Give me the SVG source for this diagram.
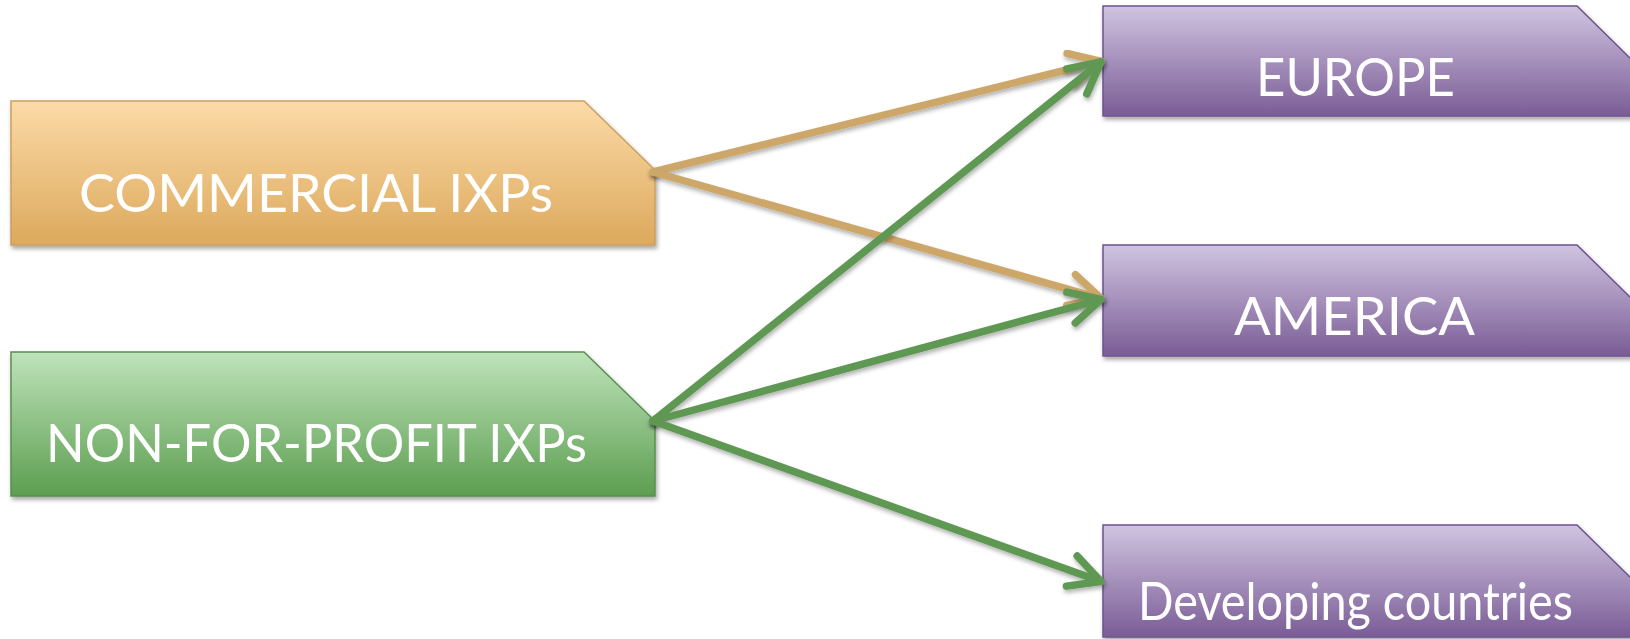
<svg xmlns="http://www.w3.org/2000/svg" width="1630" height="639" viewBox="0 0 1630 639">
  <defs>
    <linearGradient id="gOrange" x1="0" y1="0" x2="0" y2="1">
      <stop offset="0" stop-color="#FCDAA8"/>
      <stop offset="1" stop-color="#DCA95C"/>
    </linearGradient>
    <linearGradient id="gGreen" x1="0" y1="0" x2="0" y2="1">
      <stop offset="0" stop-color="#BFE3BB"/>
      <stop offset="1" stop-color="#5C9E50"/>
    </linearGradient>
    <linearGradient id="gPurple" x1="0" y1="0" x2="0" y2="1">
      <stop offset="0" stop-color="#D0C4E0"/>
      <stop offset="1" stop-color="#7A5C96"/>
    </linearGradient>
    <filter id="shadow" x="-10%" y="-10%" width="120%" height="130%">
      <feDropShadow dx="1.5" dy="3" stdDeviation="2" flood-color="#000" flood-opacity="0.35"/>
    </filter>
    <filter id="lshadow" x="-10%" y="-10%" width="120%" height="130%">
      <feDropShadow dx="1" dy="3" stdDeviation="2" flood-color="#000" flood-opacity="0.3"/>
    </filter>
    <marker id="arrTan" markerUnits="userSpaceOnUse" markerWidth="50" markerHeight="50" viewBox="-40 -25 50 50" refX="0" refY="0" orient="auto">
      <path d="M-31,-16 L0,0 L-31,16" fill="none" stroke="#CDA66A" stroke-width="7.5" stroke-linecap="round" stroke-linejoin="round"/>
    </marker>
    <marker id="arrGreen" markerUnits="userSpaceOnUse" markerWidth="50" markerHeight="50" viewBox="-40 -25 50 50" refX="0" refY="0" orient="auto">
      <path d="M-31,-16 L0,0 L-31,16" fill="none" stroke="#5E9853" stroke-width="7.5" stroke-linecap="round" stroke-linejoin="round"/>
    </marker>
  </defs>
  <style>
    .box { stroke-width: 1.5; filter: url(#shadow); }
    .orange { fill: url(#gOrange); stroke: #C9A060; }
    .green { fill: url(#gGreen); stroke: #5A8F4E; }
    .purple { fill: url(#gPurple); stroke: #6C5390; }
    .lbl { font-family: "Lato", "Open Sans", "Liberation Sans", sans-serif; font-weight: 400; font-size: 52px; fill: #FFFFFF; }
    .tan { fill: none; stroke: #CDA66A; stroke-width: 7.5; stroke-linecap: round; marker-end: url(#arrTan); filter: url(#lshadow); }
    .grn { fill: none; stroke: #5E9853; stroke-width: 7.5; stroke-linecap: round; marker-end: url(#arrGreen); filter: url(#lshadow); }
  </style>
  <rect width="1630" height="639" fill="#FFFFFF"/>

  <g id="commercial">
    <path class="box orange" d="M11,101 H584 L655,170 V245 H11 Z"/>
    <text class="lbl" x="79" y="212" textLength="474" lengthAdjust="spacingAndGlyphs">COMMERCIAL IXPs</text>
  </g>
  <g id="nonprofit">
    <path class="box green" d="M11,352 H584 L655,421 V496 H11 Z"/>
    <text class="lbl" x="46" y="462" textLength="541" lengthAdjust="spacingAndGlyphs">NON-FOR-PROFIT IXPs</text>
  </g>
  <g id="europe">
    <path class="box purple" d="M1103,6 H1577 L1632,60 V116 H1103 Z"/>
    <text class="lbl" x="1256" y="96" textLength="199" lengthAdjust="spacingAndGlyphs">EUROPE</text>
  </g>
  <g id="america">
    <path class="box purple" d="M1103,245 H1577 L1632,299 V356 H1103 Z"/>
    <text class="lbl" x="1234" y="335" textLength="241" lengthAdjust="spacingAndGlyphs">AMERICA</text>
  </g>
  <g id="developing">
    <path class="box purple" d="M1103,525 H1577 L1632,579 V637 H1103 Z"/>
    <text class="lbl" x="1138" y="620" textLength="435" lengthAdjust="spacingAndGlyphs">Developing countries</text>
  </g>

  <g id="connectors">
    <path class="tan" d="M653,172 L1101,61.5"/>
    <path class="tan" d="M653,172 L1101,298.5"/>
    <path class="grn" d="M653,421 L1101,62"/>
    <path class="grn" d="M653,421 L1101,299.5"/>
    <path class="grn" d="M653,421 L1101,581.5"/>
  </g>
</svg>
